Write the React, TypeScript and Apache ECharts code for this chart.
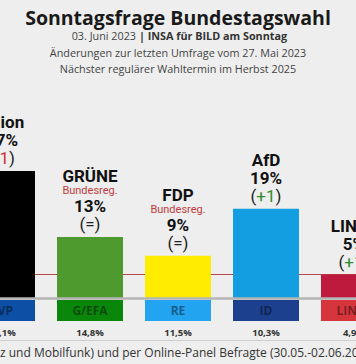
import React, { useEffect, useRef } from "react";
import * as echarts from "echarts";

const parties = ["Union", "GRÜNE", "FDP", "AfD", "LINKE"];
const values = [27, 13, 9, 19, 5];
const changes = ["-1", "=", "=", "+1", "+1"];
const government = [false, true, true, false, false];
const barColors = ["#000000", "#4e9a2e", "#ffec00", "#149ee2", "#be1a3e"];

const euGroups = ["EVP", "G/EFA", "RE", "ID", "LINKE"];
const euValues = ["25,1%", "14,8%", "11,5%", "10,3%", "4,9%"];
const euColors = ["#0d4fa4", "#0a870a", "#22a4f0", "#1c3f8e", "#d6363b"];

const threshold = 5;

const title = "Sonntagsfrage Bundestagswahl";
const subDate = "03. Juni 2023";
const subSource = "| INSA für BILD am Sonntag";
const subChange = "Änderungen zur letzten Umfrage vom 27. Mai 2023";
const subNext = "Nächster regulärer Wahltermin im Herbst 2025";
const footnote = "z und Mobilfunk) und per Online-Panel Befragte (30.05.-02.06.2023)";

const OFF = 42; // the chart canvas is wider than the visible window
const W = 356 + 2 * OFF;

export default function App() {
  const ref = useRef<HTMLDivElement>(null);
  useEffect(() => {
    document.body.style.margin = "0";
    document.body.style.overflow = "hidden";
    const chart = echarts.init(ref.current!, null, { renderer: "svg" });
    const boxRich: Record<string, any> = {};
    euColors.forEach((c, i) => {
      boxRich["b" + i] = {
        backgroundColor: c,
        width: 66,
        height: 21,
        lineHeight: 21,
        align: "center",
        color: "rgba(0,0,0,0.45)",
        fontSize: 12,
        fontWeight: "bold",
        fontFamily: "Open Sans",
      };
    });
    boxRich.p = {
      fontSize: 9.5,
      fontWeight: "bold",
      color: "#333",
      lineHeight: 22,
      fontFamily: "Open Sans",
      align: "center",
    };
    const cx = OFF + 178;
    const sub = { fontFamily: "Open Sans", fontSize: 10.8, fill: "#444", verticalAlign: "middle" };
    const option: any = {
      animation: false,
      backgroundColor: "#eeeeee",
      grid: { left: 0, right: 0, top: 157, bottom: 66 },
      xAxis: {
        type: "category",
        data: parties,
        z: 3,
        axisLine: { lineStyle: { color: "#b4b4b4", width: 2.5 } },
        axisTick: { show: false },
        axisLabel: {
          interval: 0,
          margin: 2,
          formatter: (_v: string, i: number) => `{b${i}|${euGroups[i]}}\n{p|${euValues[i]}}`,
          rich: boxRich,
        },
      },
      yAxis: { type: "value", min: 0, max: 30, show: false, splitLine: { show: false } },
      series: [
        {
          type: "bar",
          barWidth: 66,
          z: 2,
          data: values.map((v, i) => ({ value: v, itemStyle: { color: barColors[i] } })),
          label: {
            show: true,
            position: "top",
            distance: 4,
            align: "center",
            formatter: (p: any) => {
              const i = p.dataIndex;
              const lines = [`{name|${parties[i]}}`];
              if (government[i]) lines.push(`{gov|Bundesreg.}`);
              lines.push(`{pct|${values[i]}%}`);
              const c = changes[i];
              if (c === "=") lines.push(`{par|(=)}`);
              else if (c.startsWith("+")) lines.push(`{par|(}{up|${c}}{par|)}`);
              else lines.push(`{par|(}{down|${c}}{par|)}`);
              return lines.join("\n");
            },
            rich: {
              name: { fontSize: 17, fontWeight: "bold", fontFamily: "Roboto", color: "#111", lineHeight: 18, align: "center" },
              gov: { fontSize: 11, fontFamily: "Roboto", color: "#c23b3b", lineHeight: 12, align: "center" },
              pct: { fontSize: 17, fontWeight: "bold", fontFamily: "Roboto", color: "#111", lineHeight: 18, align: "center" },
              par: { fontSize: 17, fontFamily: "Roboto", color: "#222", lineHeight: 18 },
              up: { fontSize: 17, fontFamily: "Roboto", color: "#2e8b2e", lineHeight: 18 },
              down: { fontSize: 17, fontFamily: "Roboto", color: "#d0303a", lineHeight: 18 },
            },
          },
          markLine: {
            silent: true,
            z: 1,
            symbol: "none",
            label: { show: false },
            lineStyle: { color: "#b5484a", width: 1, type: "solid" },
            data: [{ yAxis: threshold }],
          },
        },
      ],
      graphic: [
        {
          type: "text",
          x: cx,
          y: 17,
          style: {
            text: title,
            fontFamily: "Open Sans",
            fontWeight: "bold",
            fontSize: 19.5,
            fill: "#1a1a1a",
            align: "center",
            verticalAlign: "middle",
          },
        },
        {
          type: "text",
          x: OFF + 136,
          y: 35,
          style: { ...sub, text: subDate, align: "right" },
        },
        {
          type: "text",
          x: OFF + 139,
          y: 35,
          style: { ...sub, text: subSource, align: "left", fontWeight: "bold", fill: "#333" },
        },
        {
          type: "text",
          x: cx,
          y: 52,
          style: { ...sub, text: subChange, align: "center" },
        },
        {
          type: "text",
          x: cx,
          y: 68,
          style: { ...sub, text: subNext, align: "center" },
        },
        {
          type: "line",
          shape: { x1: OFF, y1: 340.5, x2: OFF + 356, y2: 340.5 },
          style: { stroke: "#cfcfcf", lineWidth: 1 },
        },
        {
          type: "text",
          x: OFF,
          y: 352,
          style: { text: footnote, fontFamily: "Open Sans", fontSize: 12, fill: "#333", align: "left", verticalAlign: "middle" },
        },
      ],
    };
    chart.setOption(option);
    return () => chart.dispose();
  }, []);
  return (
    <div style={{ width: 356, height: 364, overflow: "hidden", position: "relative" }}>
      <div ref={ref} style={{ position: "absolute", left: -OFF, top: 0, width: W, height: 364 }} />
    </div>
  );
}
